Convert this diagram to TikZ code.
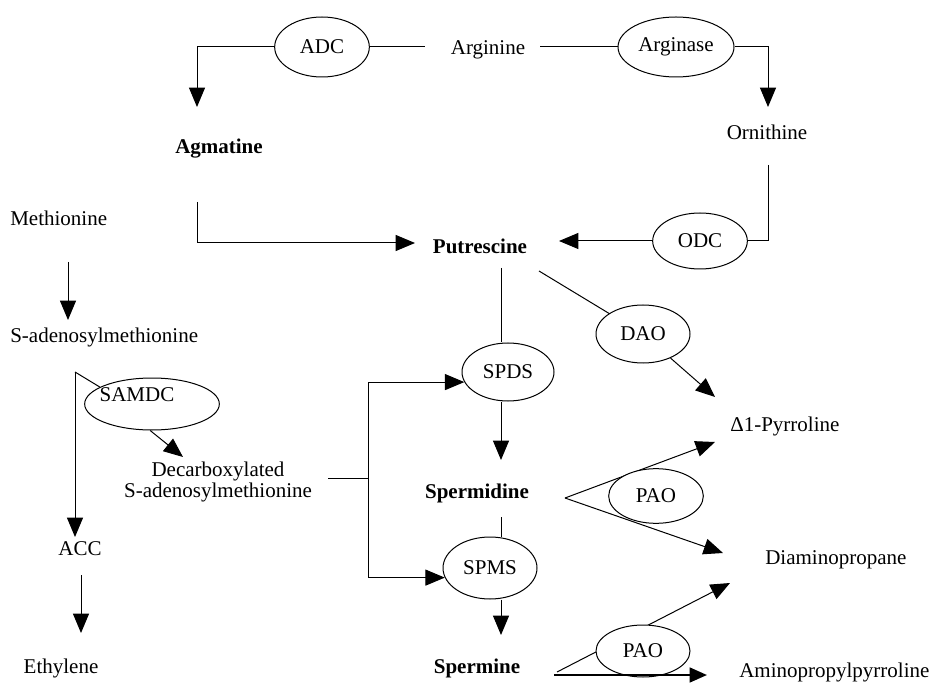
\documentclass[tikz,border=0pt]{standalone}
\usepackage{fontspec}
\setmainfont{Liberation Serif}
\usetikzlibrary{shapes.geometric,arrows.meta,backgrounds}
\begin{document}
\begin{tikzpicture}[x=0.75pt,y=-0.75pt,
  every node/.style={font=\fontsize{15.75}{16}\selectfont, inner sep=0pt},
  bold/.style={font=\fontsize{15.75}{16}\selectfont\bfseries},
  enz/.style={ellipse, draw, fill=white, line width=0.75pt},
  ln/.style={line width=0.75pt},
  arr/.style={line width=0.75pt, -{Triangle[length=14.5pt,width=12pt]}},
  thickarr/.style={line width=1.9pt, -{Triangle[length=13pt,width=11pt]}},
]
\useasboundingbox (0,0) rectangle (931,691);

% ---------- nodes ----------
\node (arg) at (488,50) {Arginine};
\node[enz, minimum width=71pt, minimum height=45pt] (adc) at (322,47) {ADC};
\node[enz, minimum width=87pt, minimum height=45pt] (ars) at (676,47) {Arginase};
\node (orn) at (767,132) {Ornithine};
\node[bold] (agm) at (219,149) {Agmatine};
\node[anchor=west] (met) at (10,218) {Methionine};
\node[bold] (put) at (480,246) {Putrescine};
\node[enz, minimum width=71pt, minimum height=42pt] (odc) at (700,241) {ODC};
\node[anchor=west] (sam) at (10,337) {S-adenosylmethionine};
\node[enz, minimum width=101pt, minimum height=39pt] (samdc) at (152,404) {};
\node (samdct) at (137,395) {SAMDC};
\node[align=center] (dsam) at (218,482) {Decarboxylated\\S-adenosylmethionine};
\node (acc) at (80,549) {ACC};
\node (eth) at (61,668) {Ethylene};
\node[enz, minimum width=69pt, minimum height=43.5pt] (spds) at (508,372) {SPDS};
\node[enz, minimum width=70.5pt, minimum height=43.5pt] (dao) at (643,334) {DAO};
\node[anchor=west] (pyr) at (730,426) {Δ1-Pyrroline};
\node[bold] (spd) at (477,493) {Spermidine};
\node[enz, minimum width=71pt, minimum height=41pt] (pao1) at (656,496) {PAO};
\node[anchor=west] (dap) at (765,560) {Diaminopropane};
\node[enz, minimum width=70.5pt, minimum height=46.5pt] (spms) at (490,568) {SPMS};
\node[bold] (spm) at (477,668) {Spermine};
\node[enz, minimum width=70.5pt, minimum height=39pt] (pao2) at (643,651) {PAO};
\node[anchor=west] (app) at (739,672) {Aminopropylpyrroline};

% ---------- free ends ----------
\coordinate (agmTip) at (197,107);
\coordinate (ornTip) at (768,107);
\coordinate (agmTurn) at (197,202);
\coordinate (putTipL) at (415,243);
\coordinate (ornLow) at (768,165);
\coordinate (putTipR) at (559,241);
\coordinate (m1) at (68,262);
\coordinate (m2) at (68,320);
\coordinate (flag) at (75,372);
\coordinate (flagTip) at (75,537);
\coordinate (decTip) at (183,457);
\coordinate (acc1) at (81,575);
\coordinate (acc2) at (81,633);
\coordinate (p1) at (501,268);
\coordinate (spdTip) at (501,460);
\coordinate (spd1) at (501,517);
\coordinate (spmTip) at (501,635);
\coordinate (br0) at (328,478);
\coordinate (brx) at (368,478);
\coordinate (pd) at (539,271);
\coordinate (daoTip) at (715,397);
\coordinate (apx1) at (565,498);
\coordinate (t1) at (715,442);
\coordinate (t2) at (723,553);
\coordinate (apx2) at (557,672);
\coordinate (apx2b) at (554,675);
\coordinate (t3) at (730,583);
\coordinate (t4) at (707,675);

% ---------- connectors ----------
\draw[ln] (adc.east) -- ++(55,0);
\draw[ln] (ars.west) -- ++(-78,0);
\draw[arr] (adc.west) -| (agmTip);
\draw[arr] (ars.east) -| (ornTip);
\draw[arr] (agmTurn) |- (putTipL);
\draw[ln] (ornLow) |- (odc.east);
\draw[arr] (odc.west) -- (putTipR);
\draw[arr] (m1) -- (m2);
\draw[ln] (flag) -- (samdc.162);
\draw[arr] (flag) -- (flagTip);
\draw[arr] (samdc.266) -- (decTip);
\draw[arr] (acc1) -- (acc2);
\draw[ln] (p1) -- (p1 |- spds.north);
\draw[arr] (spds.south -| p1) -- (spdTip);
\draw[ln] (spd1) -- (spd1 |- spms.north);
\draw[arr] (spms.south -| p1) -- (spmTip);
\draw[ln] (br0) -- (brx);
\draw[arr] (brx) |- (spds.193);
\draw[arr] (brx) |- (spms.192);
\draw[ln] (pd) -- (dao);
\draw[arr] (dao) -- (daoTip);
\begin{scope}[on background layer]
  \draw[arr] (apx1) -- (t1);
  \draw[arr] (apx1) -- (t2);
  \draw[arr] (apx2) -- (t3);
\end{scope}
\draw[thickarr] (apx2b) -- (t4);
\end{tikzpicture}
\end{document}
